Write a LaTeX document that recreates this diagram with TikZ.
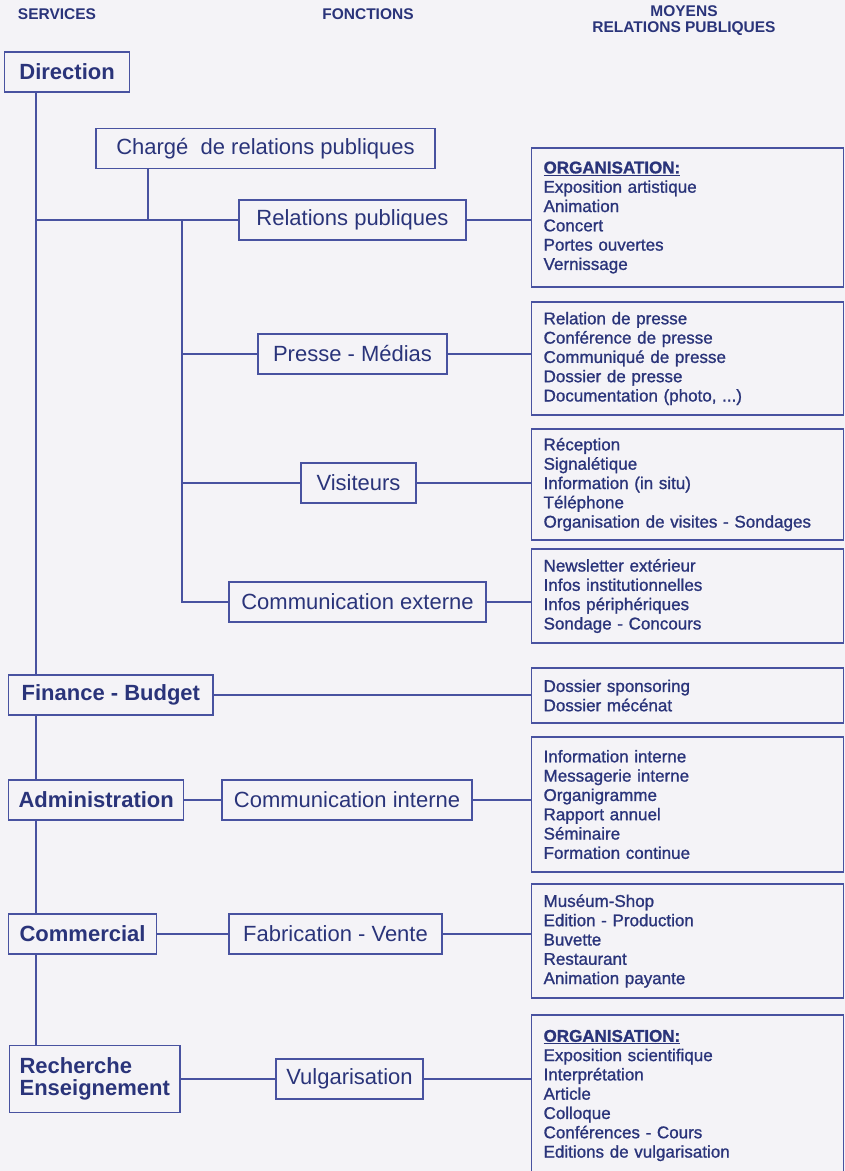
\documentclass[tikz,border=0pt]{standalone}
\usepackage{fontspec}
\setmainfont{Liberation Sans}
\newfontfamily\listfont{Liberation Sans}[FakeBold=1.1]
\usepackage{xcolor}
\usetikzlibrary{positioning,calc}

\definecolor{ink}{RGB}{42,52,122}
\definecolor{rule}{RGB}{72,82,160}
\definecolor{paper}{RGB}{244,243,247}

\tikzset{
  svc/.style={draw=rule, line width=1.2pt, text=ink, anchor=west, align=left,
    font=\fontsize{22}{22}\selectfont\bfseries, minimum height=40, inner xsep=13},
  fct/.style={draw=rule, line width=1.2pt, text=ink,
    font=\fontsize{22}{24}\selectfont, minimum height=40},
  moy/.style={draw=rule, line width=1.2pt, text=ink, anchor=west, align=left,
    font=\listfont\fontsize{17}{19.3}\selectfont, text width=288, inner xsep=12},
  hdr/.style={text=ink, align=center, font=\fontsize{15.5}{16}\selectfont\bfseries},
  link/.style={draw=rule, line width=1.2pt}
}

\begin{document}
\begin{tikzpicture}[x=1pt, y=-1pt]
    \useasboundingbox (0,0) rectangle (845,1171);
    \fill[paper] (0,0) rectangle (845,1171);
    \clip (0,0) rectangle (845,1171);

    % column titles
    \node[hdr] (hsvc) at (57,14) {SERVICES};
    \node[hdr] (hfct) at (368,14) {FONCTIONS};
    \node[hdr] (hmoy) at (684,21) {MOYENS\\RELATIONS PUBLIQUES};

    % services
    \node[svc, minimum width=125] (dir) at (4,72) {Direction};
    \node[svc] (fin) at (8,695) {Finance - Budget};
    \node[svc, inner xsep=10] (adm) at (8,800) {Administration};
    \node[svc, inner xsep=11] (com) at (8,934) {Commercial};
    \node[svc, inner xsep=10, minimum height=67] (rec) at (9,1079) {Recherche\\Enseignement};

    % fonctions
    \node[fct, minimum width=339] (crp) at (265.5,148.5) {Chargé\ \ de relations publiques};
    \node[fct, minimum width=227] (rp) at (352.5,220) {Relations publiques};
    \node[fct, minimum width=189] (pm) at (352.5,354) {Presse - Médias};
    \node[fct, minimum width=115] (vis) at (358.5,483) {Visiteurs};
    \node[fct, minimum width=257] (cex) at (357.5,602) {Communication externe};
    \node[fct, minimum width=250] (cin) at (347,800) {Communication interne};
    \node[fct, minimum width=213] (fab) at (335.5,934) {Fabrication - Vente};
    \node[fct, minimum width=147] (vul) at (349.5,1079) {Vulgarisation};

    % moyens
    \node[moy, minimum height=139] (m1) at (531,217.5) {\underline{\textbf{ORGANISATION:}}\\
      Exposition artistique\\Animation\\Concert\\Portes ouvertes\\Vernissage};
    \node[moy, minimum height=113] (m2) at (531,358.5) {Relation de presse\\
      Conférence de presse\\Communiqué de presse\\Dossier de presse\\Documentation (photo, ...)};
    \node[moy, minimum height=111] (m3) at (531,484.5) {Réception\\Signalétique\\
      Information (in situ)\\Téléphone\\Organisation de visites - Sondages};
    \node[moy, minimum height=94] (m4) at (531,596) {Newsletter extérieur\\
      Infos institutionnelles\\Infos périphériques\\Sondage - Concours};
    \node[moy, minimum height=55] (m5) at (531,695.5) {Dossier sponsoring\\Dossier mécénat};
    \node[moy, minimum height=135] (m6) at (531,804.5) {Information interne\\
      Messagerie interne\\Organigramme\\Rapport annuel\\Séminaire\\Formation continue};
    \node[moy, minimum height=114] (m7) at (531,941) {Muséum-Shop\\
      Edition - Production\\Buvette\\Restaurant\\Animation payante};
    \node[moy, minimum height=161] (m8) at (531,1095.5) {\underline{\textbf{ORGANISATION:}}\\
      Exposition scientifique\\Interprétation\\Article\\Colloque\\
      Conférences - Cours\\Editions de vulgarisation};

    % spines
    \coordinate (sp) at (36,0);
    \coordinate (sp2) at (182,0);
    \coordinate (drop) at (148,0);

    \draw[link] (sp |- dir.south) -- (sp |- fin.north);
    \draw[link] (sp |- fin.south) -- (sp |- adm.north);
    \draw[link] (sp |- adm.south) -- (sp |- com.north);
    \draw[link] (sp |- com.south) -- (sp |- rec.north);

    \draw[link] (drop |- crp.south) -- (drop |- rp.west);
    \draw[link] (sp |- rp.west) -- (rp.west);
    \draw[link] (sp2 |- rp.west) -- (sp2 |- cex.west) -- (cex.west);
    \draw[link] (sp2 |- pm.west) -- (pm.west);
    \draw[link] (sp2 |- vis.west) -- (vis.west);

    \draw[link] (adm.east) -- (cin.west);
    \draw[link] (com.east) -- (fab.west);
    \draw[link] (rec.east) -- (vul.west);

    \foreach \f/\m in {rp/m1, pm/m2, vis/m3, cex/m4, fin/m5, cin/m6, fab/m7, vul/m8}
        \draw[link] (\f.east) -- (\f.east -| \m.west);
\end{tikzpicture}
\end{document}
